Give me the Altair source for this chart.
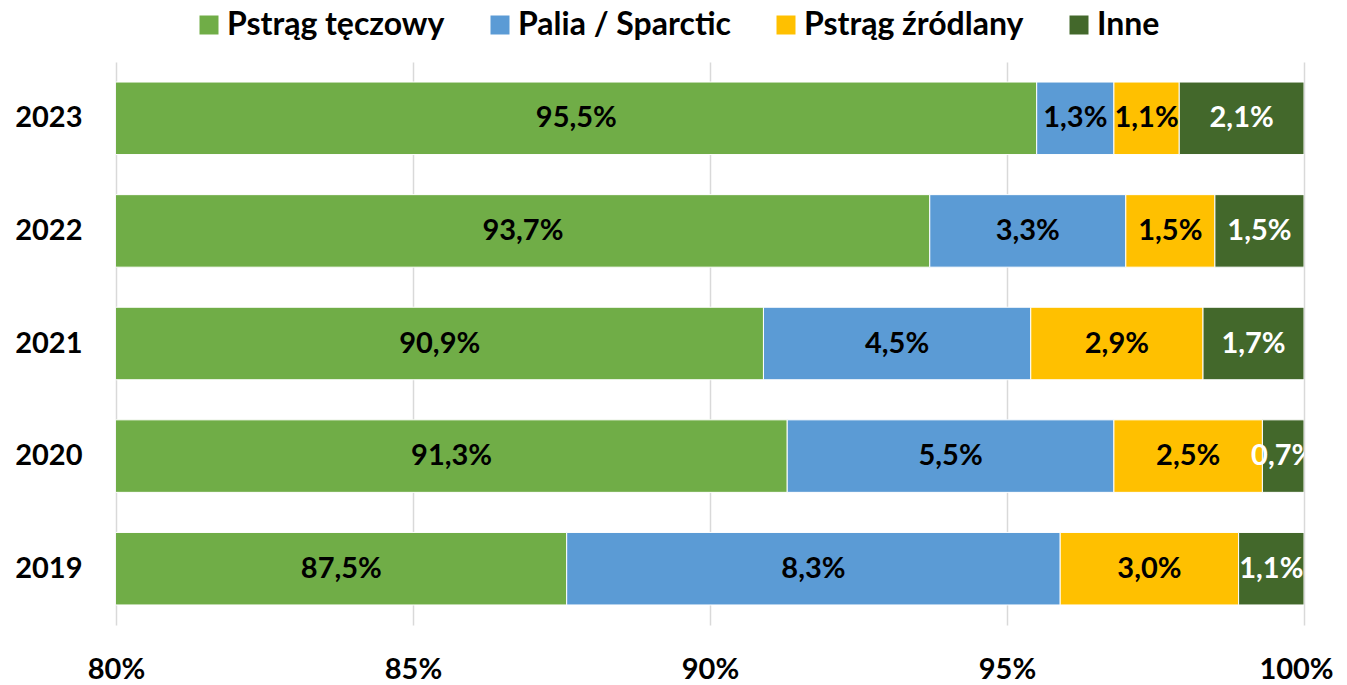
import altair as alt
import pandas as pd

years = ["2023", "2022", "2021", "2020", "2019"]
series = ["Pstrąg tęczowy", "Palia / Sparctic", "Pstrąg źródlany", "Inne"]
colors = ["#70AD47", "#5B9BD5", "#FFC000", "#43682B"]
label_colors = ["black", "black", "black", "white"]

pstrag_teczowy = [95.5, 93.7, 90.9, 91.3, 87.5]
palia_sparctic = [1.3, 3.3, 4.5, 5.5, 8.3]
pstrag_zrodlany = [1.1, 1.5, 2.9, 2.5, 3.0]
inne = [2.1, 1.5, 1.7, 0.7, 1.1]

values = [pstrag_teczowy, palia_sparctic, pstrag_zrodlany, inne]
rows = []
for si, s in enumerate(series):
    for yi, y in enumerate(years):
        rows.append({"year": y, "series": s, "order": si,
                     "value": values[si][yi], "tcolor": label_colors[si]})
df = pd.DataFrame(rows)

FONT = "Lato"
FS = 29

base = alt.Chart(df).transform_stack(
    stack="value", groupby=["year"], as_=["x0", "x1"],
    offset="normalize", sort=[alt.SortField("order")]
).transform_calculate(
    mid="(max(datum.x0, 0.8) + datum.x1) / 2",
    label="replace(format(datum.value, '.1f'), '.', ',') + '%'"
)

y_enc = alt.Y("year:N", sort=years,
              scale=alt.Scale(paddingInner=0.356, paddingOuter=0.178),
              axis=alt.Axis(title=None, ticks=False, domain=False, labelPadding=34,
                            labelFont=FONT, labelFontWeight="bold", labelFontSize=FS,
                            labelColor="black"))

x_scale = alt.Scale(domain=[0.8, 1.0], nice=False, zero=False)

bars = base.mark_bar(clip=True, stroke="white", strokeWidth=1).encode(
    y=y_enc,
    x=alt.X("x0:Q", scale=x_scale,
            axis=alt.Axis(title=None, values=[0.8, 0.85, 0.9, 0.95, 1.0], format=".0%",
                          grid=True, gridColor="#D9D9D9", gridWidth=1.5,
                          domain=False, ticks=False, labelPadding=30, labelFlush=False,
                          labelOffset={"condition": {"test": "datum.value == 1", "value": -8}, "value": 0},
                          labelFont=FONT, labelFontWeight="bold", labelFontSize=FS,
                          labelColor="black")),
    x2="x1:Q",
    color=alt.Color("series:N", scale=alt.Scale(domain=series, range=colors),
                    legend=alt.Legend(title=None, orient="none", direction="horizontal",
                                      legendX=77, legendY=-53,
                                      symbolType="square", symbolSize=361,
                                      symbolStrokeWidth=0, labelOffset=2,
                                      columnPadding=39,
                                      labelFont=FONT, labelFontWeight="bold",
                                      labelFontSize=32, labelColor="black",
                                      labelLimit=400)),
)

text = base.mark_text(clip=True, font=FONT, fontWeight="bold", fontSize=29).encode(
    y=alt.Y("year:N", sort=years),
    x=alt.X("mid:Q", scale=x_scale),
    text="label:N",
    color=alt.Color("tcolor:N", scale=None),
)

chart = alt.layer(bars, text).properties(
    width=1188, height=563,
    padding={"left": 108, "top": 54, "right": 35, "bottom": 60},
    autosize=alt.AutoSizeParams(type="none"),
).configure_view(stroke=None)

chart.save("out.html", embed_options={"renderer": "svg", "actions": False})
